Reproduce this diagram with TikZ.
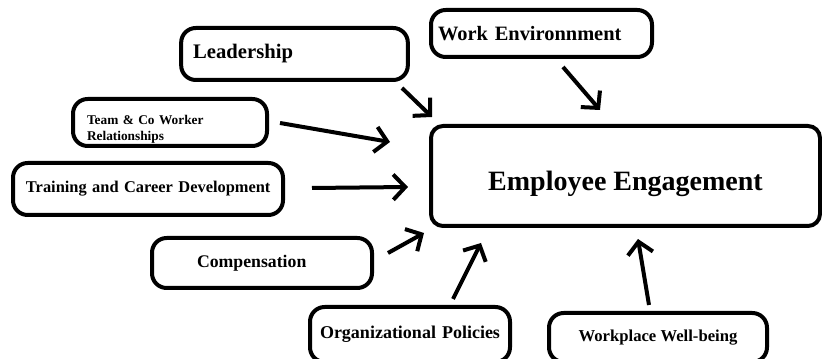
\documentclass[tikz,border=0pt]{standalone}
\usepackage{fontspec}
\setmainfont{Liberation Serif}
\usetikzlibrary{arrows.meta}

\begin{document}
\begin{tikzpicture}[x=0.75pt,y=-0.75pt,
    factor/.style={draw, line width=3pt, rounded corners=11pt, inner ysep=0pt, align=left},
    push/.style={line width=3pt, -{Straight Barb[length=9pt,width=19pt]}}]
  \useasboundingbox (0,0) rectangle (822,359);
  % the outcome
  \node[factor, rounded corners=9pt, align=center, minimum width=291.75pt, minimum height=75pt,
        text height=27.5pt, text depth=5pt, font=\bfseries\fontsize{21}{25}\selectfont]
        (eng) at (625.5,176) {Employee Engagement};
  % the factors
  \node[factor, minimum width=170pt, minimum height=39pt, text width=152pt, inner xsep=9pt,
        font=\bfseries\fontsize{15.5}{18}\selectfont] (lead) at (294.5,54) {Leadership};
  \node[factor, minimum width=165.75pt, minimum height=35.25pt, text width=155pt, inner xsep=5.25pt,
        font=\bfseries\fontsize{15.3}{18}\selectfont] (env) at (541.5,33.5) {\mbox{Work Environnment}};
  \node[factor, minimum width=145.5pt, minimum height=35.25pt, text width=124.5pt, inner xsep=10.5pt,
        font=\bfseries\fontsize{10}{11.5}\selectfont] (team) at (170,122.5)
        {\rule{0pt}{17pt}Team \& Co Worker\\Relationships};
  \node[factor, minimum width=202.5pt, minimum height=39pt, text width=183pt, inner xsep=9.75pt,
        font=\bfseries\fontsize{12.3}{15}\selectfont] (train) at (148,189) {\mbox{Training and Career Development}};
  \node[factor, minimum width=165pt, minimum height=37.5pt, text width=97.5pt, inner xsep=33.75pt,
        font=\bfseries\fontsize{13.3}{16}\selectfont] (comp) at (262,263) {Compensation};
  \node[factor, minimum width=150pt, minimum height=41.25pt, text width=135pt, inner xsep=7.5pt,
        font=\bfseries\fontsize{13.5}{16}\selectfont] (org) at (410,334.5) {\mbox{Organizational Policies}};
  \node[factor, align=center, minimum width=163.5pt, minimum height=36.75pt,
        font=\bfseries\fontsize{12.5}{15}\selectfont] (well) at (658,337.5) {Workplace Well-being};
  % arrow ends
  \coordinate (lead1) at (402,88);   \coordinate (lead2) at (432,117);
  \coordinate (env1) at (563,67);    \coordinate (env2) at (600,110);
  \coordinate (team1) at (280,123);  \coordinate (team2) at (390,142);
  \coordinate (train1) at (312,188); \coordinate (train2) at (408,187);
  \coordinate (comp1) at (388,253);  \coordinate (comp2) at (424,233);
  \coordinate (org1) at (453,299);   \coordinate (org2) at (481,243);
  \coordinate (well1) at (649,305);  \coordinate (well2) at (638,239);
  \foreach \f in {lead,env,team,train,comp,org,well}
    \draw[push] (\f1) -- (\f2);
\end{tikzpicture}
\end{document}
